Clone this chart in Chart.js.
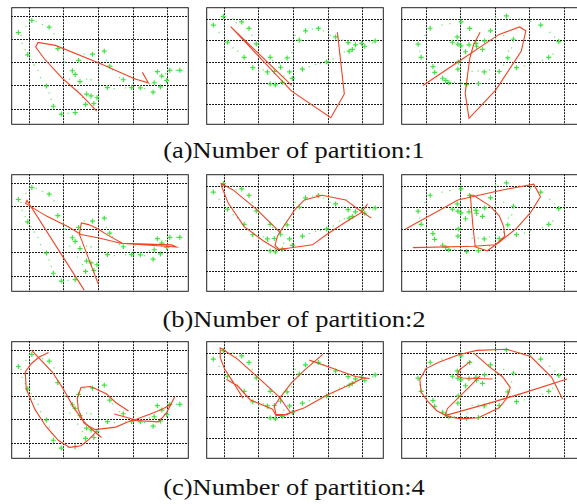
<!DOCTYPE html>
<html>
<head>
<meta charset="utf-8">
<script src="https://cdn.jsdelivr.net/npm/chart.js@4"></script>
<style>
  body { margin: 0; background: #fff; width: 577px; height: 504px; overflow: hidden; position: relative; }
  .panel { position: absolute; width: 188px; height: 128px; }
  .cap { position: absolute; left: 94px; width: 400px; text-align: center;
         font-family: "Liberation Serif", serif; font-size: 23px; line-height: 23px; color: #111;
         transform: scaleX(1.15); transform-origin: 200px 50%; }
</style>
</head>
<body>
<script>
// grid lines sit at 1..5 on both axes in every panel
const gridVals = [1, 2, 3, 4, 5];

// axis limits per column (the three columns use different ranges)
const xLimits = [[0.485, 5.609], [0.485, 5.609], [0.284, 5.408]];
const yLimits = [[0.316, 5.417], [0.044, 5.593], [0.044, 5.593]];

// green samples, one set per column (same in all rows)
const crossCol1 = [[1.08,4.84],[1.58,4.55],[0.69,4.32],[0.96,3.35],[1.83,3.62],[2.83,3.38],[3.17,3.51],[2.43,3.11],[3.33,2.86],[2.25,2.66],[2.33,2.5],[2.47,2.19],[1.5,2.0],[4.7,2.62],[5.06,2.68],[4.83,2.43],[4.97,2.24],[5.35,2.68],[4.61,2.14],[4.79,1.96],[4.58,1.73],[3.72,2.27],[3.96,1.93],[4.21,1.92],[3.26,1.93],[2.66,1.65],[2.79,1.57],[2.96,1.49],[1.7,1.12],[2.63,1.2],[2.87,1.24],[1.93,0.78],[2.33,0.84]];
const dotCol1 = [[0.91,4.59],[1.21,4.8],[1.39,4.66],[0.77,4.19],[0.8,3.85],[0.89,3.58],[1.06,3.14],[1.15,2.91],[1.26,2.68],[1.33,2.36],[1.58,1.69],[1.64,1.42],[2.13,0.81],[1.99,3.31],[2.04,3.04],[2.66,2.3],[2.79,2.27],[3.0,2.09],[3.41,2.7],[3.61,2.36],[4.06,2.32],[4.47,2.09],[3.46,1.89],[3.78,1.92],[4.94,2.54],[5.25,2.68],[2.54,1.49],[3.23,3.11],[2.59,3.38],[1.72,4.26],[2.4,1.82],[2.17,2.3],[4.33,1.89]];
const crossCol2 = [[0.98,5.15],[0.69,4.75],[1.51,4.9],[1.72,4.59],[1.1,3.94],[1.93,3.86],[1.58,3.23],[1.83,2.74],[2.33,3.23],[2.25,2.54],[2.45,2.56],[2.63,2.76],[2.82,3.2],[2.89,2.54],[2.33,1.97],[2.48,1.93],[2.68,2.05],[2.97,2.23],[3.26,2.67],[3.17,4.04],[3.35,4.48],[3.72,4.59],[4.22,4.19],[3.96,3.01],[4.58,3.92],[4.79,3.82],[4.97,3.89],[5.06,3.75],[4.7,3.6],[4.61,3.52],[5.36,4.0]];
const dotCol2 = [[0.86,4.41],[1.26,5.04],[1.35,4.85],[1.81,4.26],[1.39,3.52],[1.26,3.67],[2.13,2.64],[2.4,3.08],[2.59,2.93],[2.72,2.34],[2.95,3.45],[3.05,4.26],[3.55,4.56],[3.87,4.48],[4.06,4.26],[4.42,4.04],[3.46,2.79],[3.64,2.89],[3.78,2.93],[4.15,3.15],[4.33,3.38],[4.47,3.48],[5.2,3.97],[5.29,3.92],[2.27,2.42],[2.0,2.56]];
const crossCol3 = [[3.32,5.18],[2.01,4.9],[1.12,4.6],[2.26,4.59],[2.86,4.48],[4.31,4.75],[4.83,3.97],[0.77,3.85],[1.9,4.19],[1.76,3.94],[1.92,3.85],[2.01,3.77],[2.24,3.82],[2.44,3.89],[2.46,3.75],[2.69,4.0],[2.63,3.6],[2.14,3.49],[3.52,4.08],[3.36,3.2],[3.61,2.74],[4.54,3.23],[0.86,3.23],[1.2,2.79],[1.25,2.52],[1.93,3.01],[1.92,2.67],[2.68,2.54],[3.11,2.56],[1.48,2.24],[1.57,2.14],[1.66,2.03],[2.17,1.94],[2.51,1.99]];
const dotCol3 = [[1.46,4.75],[1.69,4.82],[2.6,5.0],[3.01,5.1],[3.7,5.04],[4.02,4.93],[4.57,4.41],[4.71,4.19],[0.97,4.26],[0.82,3.52],[1.0,3.01],[1.82,2.05],[2.01,2.02],[2.33,2.56],[2.51,2.59],[2.83,2.64],[3.24,2.86],[3.84,2.82],[4.02,2.93],[4.36,3.08],[4.66,3.38],[3.47,3.67],[3.38,3.52],[3.01,4.11],[3.24,4.26],[2.19,2.2],[2.83,2.2]];

// red fitted curves, one list of strokes per panel
const redA1 = [[[2.95,0.91],[2.5,1.62],[1.94,2.36],[1.44,3.18],[1.19,3.69],[1.26,3.89],[1.76,3.76],[3.05,2.97],[4.06,2.3],[4.44,2.14],[4.27,2.59]]];
const redA2 = [[[2.95,1.9],[1.19,4.68],[2.95,1.63],[4.08,0.38],[4.47,1.5],[4.27,4.41]]];
const redA3 = [[[0.91,1.9],[1.92,3.01],[3.11,4.31],[3.7,4.66],[3.88,4.48],[3.75,3.52],[3.01,1.68],[2.24,0.35],[2.13,1.53],[2.26,3.15],[2.37,3.82],[2.56,4.41]]];
const redB1 = [[[2.59,0.39],[0.94,4.28],[0.9,4.15],[1.49,3.61],[2.13,3.14],[2.5,2.8],[3.05,2.64],[3.64,2.42],[5.25,2.26],[5.11,2.35],[3.69,2.42],[3.32,2.73],[2.95,3.07],[2.72,3.23],[2.51,3.3],[2.45,2.82],[3.0,0.64]]];
const redB2 = [
  [[5.25,3.52],[4.88,3.93],[4.51,4.38],[3.83,4.6],[3.32,4.38],[3.05,3.93],[2.68,3.04],[2.54,2.67],[2.47,2.23],[2.59,2.04],[3.55,2.26],[3.96,2.75],[4.51,3.34],[4.97,3.79],[5.14,4.2]],
  [[2.63,2.82],[1.94,3.93],[1.26,4.85],[0.92,5.15],[0.94,4.97],[1.12,4.23],[1.58,3.12],[2.13,2.45],[2.54,2.04],[2.82,2.08]]
];
const redB3 = [[[0.41,3.01],[1.92,4.38],[3.2,4.85],[4.11,5.12],[4.3,4.53],[4.02,3.79],[3.61,3.04],[3.11,2.38],[2.77,1.98],[2.42,2.16],[2.35,3.19],[2.28,4.6],[2.37,4.6],[2.83,4.11],[3.11,3.64],[3.24,3.12],[3.27,2.67],[3.0,2.26],[2.37,2.19],[0.62,2.13]]];
const redC1 = [
  [[3.09,1.24],[2.77,1.65],[2.54,1.99],[2.27,2.59],[1.99,3.34],[1.67,4.08],[1.07,5.03]],
  [[1.56,4.93],[1.28,4.72],[1.07,4.45],[0.89,4.08],[0.92,3.34],[1.17,2.46],[1.49,1.72],[1.85,1.11],[2.17,0.81],[2.5,0.88],[2.72,1.15],[2.95,1.51]],
  [[3.87,2.39],[3.5,2.76],[3.23,3.14],[2.77,3.45],[2.5,3.41],[2.39,2.93],[2.42,2.46],[2.59,1.85],[2.91,1.58],[3.5,1.69],[3.96,1.99],[4.74,1.92],[4.97,2.32],[5.2,3.0]],
  [[3.46,2.26],[4.06,2.01],[4.61,2.32],[4.88,2.5],[5.11,2.69]]
];
const redC2 = [
  [[1.55,2.9],[1.21,3.79],[1.01,4.3],[0.89,4.82],[0.89,5.27],[0.98,5.19],[1.39,4.75],[2.04,3.79],[2.59,2.97],[2.91,2.23],[2.82,2.13],[2.5,2.08],[2.4,2.38],[2.13,2.57],[1.76,2.82],[1.39,3.49],[1.07,3.79]],
  [[3.85,4.97],[3.32,4.23],[2.95,3.64],[2.63,2.97],[2.45,2.53],[2.5,2.13],[2.77,2.13],[3.32,2.45],[3.96,3.04],[4.61,3.53],[5.02,3.86],[5.2,3.83],[4.79,3.93],[4.15,4.3],[3.46,4.7]]
];
const redC3 = [
  [[4.94,2.87],[4.62,3.9],[4.02,4.87],[3.33,5.21],[2.46,5.16],[1.92,4.94],[1.37,4.6],[1.0,4.3],[0.82,3.79],[0.86,3.19],[1.05,2.75],[1.32,2.3],[1.64,2.04],[2.01,1.93],[2.51,1.98],[3.11,2.45],[3.33,2.9],[3.43,3.41],[3.2,3.93],[2.83,4.38],[2.37,5.04]],
  [[2.28,4.64],[1.96,4.23],[1.9,3.96],[2.05,3.86],[2.92,3.81]],
  [[5.07,3.81],[3.75,3.12],[2.83,2.67],[1.55,2.08],[1.62,2.42],[1.96,2.97],[2.28,3.49],[2.56,3.96]]
];

const captions = ['(a)Number of partition:1', '(b)Number of partition:2', '(c)Number of partition:4'];

const greens = [[crossCol1, dotCol1], [crossCol2, dotCol2], [crossCol3, dotCol3]];
const reds = [[redA1, redA2, redA3], [redB1, redB2, redB3], [redC1, redC2, redC3]];

const colLeft = [7, 202, 397];
const rowTop = [3, 170, 337];
const capTop = [139, 308, 476];

const toXY = arr => arr.map(p => ({x: p[0], y: p[1]}));

const frame = {
  id: 'frame',
  afterDraw(chart) {
    const a = chart.chartArea, ctx = chart.ctx;
    ctx.save();
    ctx.strokeStyle = '#222';
    ctx.lineWidth = 1;
    ctx.strokeRect(a.left + 0.5, a.top + 0.5, a.right - a.left - 1, a.bottom - a.top - 1);
    ctx.restore();
  }
};

function axis(lim) {
  return {
    type: 'linear', min: lim[0], max: lim[1],
    afterBuildTicks: s => { s.ticks = gridVals.map(v => ({value: v})); },
    ticks: {display: false},
    grid: {color: '#1a1a1a', lineWidth: 1, drawTicks: false},
    border: {display: false, dash: [2, 1]}
  };
}

for (let r = 0; r < 3; r++) {
  for (let c = 0; c < 3; c++) {
    const box = document.createElement('div');
    box.className = 'panel';
    box.style.left = (colLeft[c] - 1) + 'px';
    box.style.top = (rowTop[r] - 1) + 'px';
    const cv = document.createElement('canvas');
    cv.width = 188; cv.height = 128;
    box.appendChild(cv);
    document.body.appendChild(box);

    const datasets = reds[r][c].map(stroke => ({
      data: toXY(stroke),
      showLine: true,
      borderColor: '#f04424',
      borderWidth: 1.1,
      pointRadius: 0,
      tension: 0
    }));
    datasets.push({
      data: toXY(greens[c][0]),
      pointStyle: 'cross',
      pointRadius: 2.5,
      borderColor: '#3ee43e',
      borderWidth: 1.2
    });
    datasets.push({
      data: toXY(greens[c][1]),
      pointStyle: 'rect',
      pointRadius: 0.9,
      borderWidth: 0,
      backgroundColor: '#6fea6f'
    });

    new Chart(cv, {
      type: 'scatter',
      data: {datasets: datasets},
      options: {
        responsive: false,
        animation: false,
        events: [],
        layout: {padding: 1},
        plugins: {legend: {display: false}, tooltip: {enabled: false}},
        scales: {x: axis(xLimits[c]), y: axis(yLimits[c])}
      },
      plugins: [frame]
    });
  }
  const cap = document.createElement('div');
  cap.className = 'cap';
  cap.style.top = capTop[r] + 'px';
  cap.textContent = captions[r];
  document.body.appendChild(cap);
}
</script>
</body>
</html>
